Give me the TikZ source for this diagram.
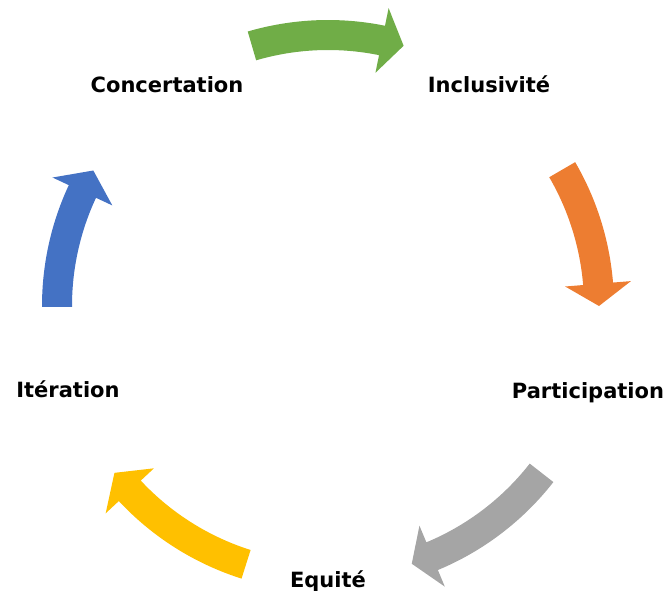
\documentclass[tikz,border=0pt]{standalone}
\usepackage{fontspec}
\setmainfont{DejaVu Sans}
\usepackage{xcolor}
\definecolor{cgreen}{HTML}{70AD47}
\definecolor{corange}{HTML}{ED7D31}
\definecolor{cgray}{HTML}{A5A5A5}
\definecolor{cyellow}{HTML}{FFC000}
\definecolor{cblue}{HTML}{4472C4}
\tikzstyle{steplabel} = [font=\bfseries\fontsize{21}{25}\selectfont,
text=black,
inner sep=0pt,
anchor=base]
% curved block arrow: colour, tail angle, head base angle, tip angle
\newcommand{\arcarrow}[4]{%
\fill[#1] (#2:286pt) arc[start angle=#2, end angle=#3, radius=286pt]
  -- (#3:304pt) -- (#4:271pt) -- (#3:238pt) -- (#3:256pt)
  arc[start angle=#3, end angle=#2, radius=256pt] -- cycle;}

\begin{document}
\begin{tikzpicture}
		\useasboundingbox (0,0) rectangle (667pt,-591pt);
		\coordinate (ctr) at (328pt,-306pt);
		
		\node (concert) [steplabel] at (167pt,-93pt) {Concertation};
		\node (inclus) [steplabel] at (489pt,-93pt) {Inclusivité};
		\node (partic) [steplabel] at (588pt,-398pt) {Participation};
		\node (equite) [steplabel] at (328pt,-587pt) {Equité};
		\node (iter) [steplabel] at (68pt,-397pt) {Itération};
		
		\begin{scope}[shift={(ctr)}]
		\arcarrow{cgreen}{106.3}{78.5}{73.8}
		\arcarrow{corange}{30.2}{4.7}{0}
		\arcarrow{cgray}{-38}{-67.4}{-72}
		\arcarrow{cyellow}{-107.6}{-137}{-142}
		\arcarrow{cblue}{180.2}{155}{150}
		\end{scope}
	\end{tikzpicture}
\end{document}
